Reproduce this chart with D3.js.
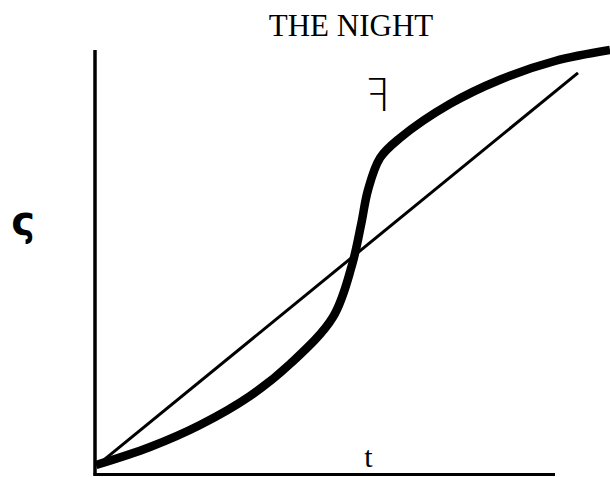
<!DOCTYPE html>
<html>
<head>
<meta charset="utf-8">
<script src="https://cdn.jsdelivr.net/npm/d3@7"></script>
<style>
  html, body { margin: 0; padding: 0; background: #fff; }
  svg { display: block; }
</style>
</head>
<body>
<div id="chart"></div>
<script>
'use strict';

// data (domain units 0..100 on both axes)
var titleText = 'THE NIGHT';
var xLabel = 't';
var yLabel = 'ς';
var curveLabel = 'ꟻ';

var sCurveX = [0.22, 11.96, 22.83, 33.70, 42.39, 51.74, 55.87, 57.83, 59.35, 61.96, 66.30, 77.17, 88.04, 100.0, 111.96];
var sCurveY = [2.24, 6.48, 11.66, 18.49, 26.03, 37.10, 49.35, 58.78, 67.02, 74.56, 79.27, 87.30, 93.00, 97.41, 100.0];

var lineX = [0.4, 105];
var lineY = [2.1, 94.6];

var width = 610;
var height = 477;

var svg = d3.select('#chart').append('svg')
	.attr('width', width)
	.attr('height', height);

var x = d3.scaleLinear().domain([0, 100]).range([95, 555]);
var y = d3.scaleLinear().domain([0, 100]).range([474.5, 50]);

var line = d3.line()
	.x(function(d) { return x(d[0]); })
	.y(function(d) { return y(d[1]); });

// thin straight line
svg.append('path')
	.datum(d3.zip(lineX, lineY))
	.attr('d', line)
	.attr('fill', 'none')
	.attr('stroke', '#000')
	.attr('stroke-width', 3);

// thick S curve
svg.append('path')
	.datum(d3.zip(sCurveX, sCurveY))
	.attr('d', line.curve(d3.curveCatmullRom.alpha(0.5)))
	.attr('fill', 'none')
	.attr('stroke', '#000')
	.attr('stroke-width', 8.5);

// axes
svg.append('line')
	.attr('x1', x(0)).attr('x2', x(0))
	.attr('y1', y(0)).attr('y2', y(100))
	.attr('stroke', '#000').attr('stroke-width', 3.5);

svg.append('line')
	.attr('x1', x(0) - 1.75).attr('x2', x(100))
	.attr('y1', y(0)).attr('y2', y(0))
	.attr('stroke', '#000').attr('stroke-width', 3);

var serif = '"Liberation Serif", "Times New Roman", serif';

svg.append('text')
	.attr('x', 351).attr('y', 36)
	.attr('text-anchor', 'middle')
	.style('font-family', serif)
	.style('font-size', '31px')
	.text(titleText);

svg.append('text')
	.attr('x', 368.5).attr('y', 467)
	.attr('text-anchor', 'middle')
	.style('font-family', serif)
	.style('font-size', '30px')
	.text(xLabel);

svg.append('text')
	.attr('x', 23).attr('y', 235)
	.attr('text-anchor', 'middle')
	.style('font-family', '"DejaVu Sans", sans-serif')
	.style('font-weight', 'bold')
	.style('font-size', '40px')
	.text(yLabel);

svg.append('text')
	.attr('x', 378).attr('y', 111)
	.attr('text-anchor', 'middle')
	.style('font-family', '"DejaVu Sans", sans-serif')
	.style('font-weight', '200')
	.style('font-size', '44px')
	.text(curveLabel);
</script>
</body>
</html>
